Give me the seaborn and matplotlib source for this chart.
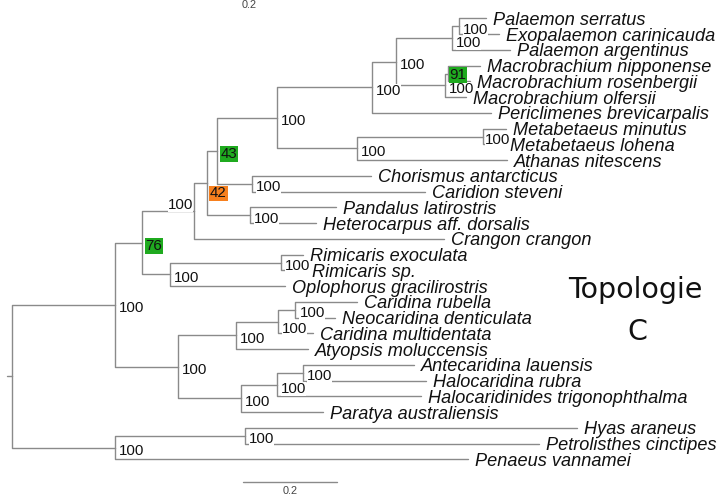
import numpy as np
import pandas as pd
import matplotlib
matplotlib.use("Agg")
import matplotlib.pyplot as plt
import seaborn as sns

# tips, top to bottom
tip_names = [
    "Palaemon serratus", "Exopalaemon carinicauda", "Palaemon argentinus",
    "Macrobrachium nipponense", "Macrobrachium rosenbergii", "Macrobrachium olfersii",
    "Periclimenes brevicarpalis", "Metabetaeus minutus", "Metabetaeus lohena",
    "Athanas nitescens", "Chorismus antarcticus", "Caridion steveni",
    "Pandalus latirostris", "Heterocarpus aff. dorsalis", "Crangon crangon",
    "Rimicaris exoculata", "Rimicaris sp.", "Oplophorus gracilirostris",
    "Caridina rubella", "Neocaridina denticulata", "Caridina multidentata",
    "Atyopsis moluccensis", "Antecaridina lauensis", "Halocaridina rubra",
    "Halocaridinides trigonophthalma", "Paratya australiensis", "Hyas araneus",
    "Petrolisthes cinctipes", "Penaeus vannamei",
]
tip_lengths = [
    0.058, 0.085, 0.124, 0.068, 0.047, 0.045, 0.253, 0.048, 0.042, 0.319,
    0.253, 0.368, 0.183, 0.141, 0.532, 0.047, 0.051, 0.245, 0.132, 0.085,
    0.075, 0.153, 0.236, 0.262, 0.307, 0.175, 0.707, 0.626, 0.751,
]
tip_parent = [10, 10, 9, 12, 12, 11, 7, 14, 14, 13, 15, 15, 16, 16, 3,
              18, 18, 17, 22, 22, 21, 20, 25, 25, 24, 23, 27, 27, 26]

# internal nodes (0 = root)
node_parent = [-1, 0, 1, 2, 3, 4, 5, 6, 7, 8, 9, 8, 11, 6, 13, 5, 4, 2, 17,
               1, 19, 20, 21, 19, 23, 24, 0, 26]
node_lengths = [0.011, 0.219, 0.057, 0.111, 0.028, 0.021, 0.128, 0.202, 0.051,
                0.119, 0.015, 0.104, 0.006, 0.170, 0.268, 0.074, 0.091, 0.060,
                0.236, 0.134, 0.123, 0.089, 0.038, 0.134, 0.077, 0.055, 0.219,
                0.277]
node_support = [None, 100, 76, 100, 42, 43, 100, 100, 100, 100, 100, 100, 91,
                100, 100, 100, 100, 100, 100, 100, 100, 100, 100, 100, 100, 100,
                100, 100]

scale_length = 0.2

# ---- layout ----
n_nodes = len(node_parent)
children = {i: [] for i in range(n_nodes)}
for i, p in enumerate(node_parent):
    if p >= 0:
        children[p].append(("n", i))
for i, p in enumerate(tip_parent):
    children[p].append(("t", i))

node_depth = np.zeros(n_nodes)
for i, p in enumerate(node_parent):
    node_depth[i] = 0.0 if p < 0 else node_depth[p] + node_lengths[i]
tip_depth = node_depth[tip_parent] + np.array(tip_lengths)
tip_y = np.arange(len(tip_names), dtype=float)

node_y = np.zeros(n_nodes)
for i in reversed(range(n_nodes)):
    ys = [tip_y[j] if k == "t" else node_y[j] for k, j in children[i]]
    node_y[i] = np.mean(ys)

rows = []
eid = 0
for i, p in enumerate(node_parent):
    if p < 0:
        pts = [(-node_lengths[i], node_y[i]), (0.0, node_y[i])]
    else:
        pts = [(node_depth[p], node_y[p]), (node_depth[p], node_y[i]),
               (node_depth[i], node_y[i])]
    for x, y in pts:
        rows.append({"edge": eid, "x": x, "y": y})
    eid += 1
for i, p in enumerate(tip_parent):
    for x, y in [(node_depth[p], node_y[p]), (node_depth[p], tip_y[i]),
                 (tip_depth[i], tip_y[i])]:
        rows.append({"edge": eid, "x": x, "y": y})
    eid += 1
edges = pd.DataFrame(rows)

sns.set_theme(style="white")
plt.rcParams["font.family"] = ["Liberation Sans", "DejaVu Sans"]

fig = plt.figure(figsize=(7.18, 4.97), dpi=100)
ax = fig.add_axes([0, 0, 1, 1])
sns.lineplot(data=edges, x="x", y="y", units="edge", estimator=None, sort=False,
             color="#8a8a8a", linewidth=1.0, ax=ax, legend=False)

px = 470.0  # pixels per substitution unit
ax.set_xlim(-12 / px, 706 / px)
ax.set_ylim((497 - 18.4) / 15.75, -18.4 / 15.75)
ax.axis("off")

for name, x, y in zip(tip_names, tip_depth, tip_y):
    ax.annotate(name, (x, y), xytext=(7, -6.5), textcoords="offset pixels",
                ha="left", va="baseline", fontsize=13.1, fontstyle="italic",
                color="#111111", annotation_clip=False)

box_colors = {91: "#1faa1f", 76: "#1faa1f", 43: "#1faa1f", 42: "#f7801e"}
label_offsets = {3: (-1, 1.6, "right"), 4: (3, -14.4, "left"),
                 21: (4, -11.4, "left"), 24: (4, -8.4, "left"),
                 9: (4, -9.4, "left"), 12: (2, -5.8, "left"),
                 14: (2, -7.4, "left")}
for i, s in enumerate(node_support):
    if s is None:
        continue
    dx, dy, ha = label_offsets.get(i, (4, -7.4, "left"))
    pad = 0.06 if s in box_colors else 0.0
    ax.annotate(str(s), (node_depth[i], node_y[i]), xytext=(dx, dy),
                textcoords="offset pixels", ha=ha, va="baseline",
                fontsize=10.8, color="#111111",
                bbox=dict(boxstyle=f"square,pad={pad}",
                          fc=box_colors.get(s, "white"), ec="none"))

# scale bar
sb_y = (482 - 18.4) / 15.75
sb_x0 = (243 - 12) / px
ax.plot([sb_x0, sb_x0 + scale_length], [sb_y, sb_y], color="#8a8a8a", lw=1.0)
ax.annotate(str(scale_length), (sb_x0 + scale_length / 2, sb_y), xytext=(0, -12),
            textcoords="offset pixels", ha="center", va="baseline",
            fontsize=7.8, color="#444444")
fig.text(249 / 718, 1 - 8 / 497, str(scale_length), ha="center", va="baseline",
         fontsize=7.8, color="#444444")

fig.text(635 / 718, 1 - 298 / 497, "Topologie", ha="center", va="baseline",
         fontsize=20.5, family="DejaVu Sans", color="#111111")
fig.text(637 / 718, 1 - 340 / 497, "C", ha="center", va="baseline",
         fontsize=20.5, family="DejaVu Sans", color="#111111")

fig.savefig("out.png", dpi=100)
